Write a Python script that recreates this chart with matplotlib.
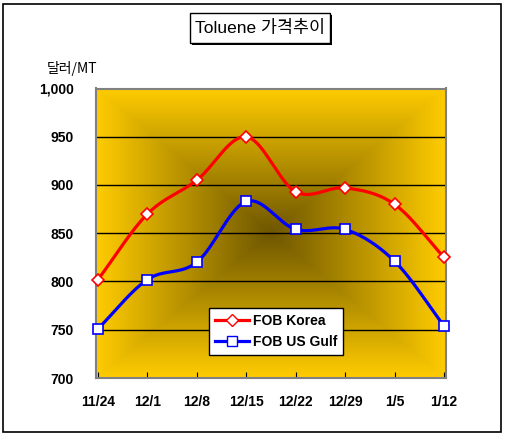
import numpy as np
import matplotlib
matplotlib.use("Agg")
import matplotlib.pyplot as plt
from matplotlib.patches import Rectangle
from matplotlib.lines import Line2D

categories = ["11/24", "12/1", "12/8", "12/15", "12/22", "12/29", "1/5", "1/12"]
fob_korea = [802, 870, 905, 950, 893, 897, 880, 825]
fob_usgulf = [751, 802, 820, 883, 854, 854, 821, 754]
yticks = [700, 750, 800, 850, 900, 950, 1000]
ytick_labels = ["700", "750", "800", "850", "900", "950", "1,000"]

W, H = 507, 441
fig = plt.figure(figsize=(W / 100, H / 100), dpi=100)
fig.patch.set_facecolor("white")

def fx(px):
    return px / W

def fy(py):
    return 1 - py / H

ax = fig.add_axes([fx(96), fy(378), fx(446) - fx(96), fy(88.5) - fy(378)])

# rectangular "from center" gradient background
n = 300
u = np.linspace(-1, 1, n)
U, V = np.meshgrid(u, u)
d = np.maximum(np.abs(U), np.abs(V))
edge = np.array([0xFF, 0xCC, 0x00]) / 255
center = np.array([0x6E, 0x56, 0x00]) / 255
t = d[..., None] ** 1.0
img = center + (edge - center) * t
ax.imshow(img, extent=[-0.04, 7.04, 700, 1000], aspect="auto", zorder=0)

ax.set_xlim(-0.04, 7.04)
ax.set_ylim(700, 1000)

for yv in yticks[1:-1]:
    ax.axhline(yv, color="black", lw=1.0, zorder=1)


def smooth(xs, ys, k=20):
    xs = np.asarray(xs, float)
    ys = np.asarray(ys, float)
    P = np.column_stack([xs, ys])
    P = np.vstack([2 * P[0] - P[1], P, 2 * P[-1] - P[-2]])
    out = []
    for i in range(1, len(P) - 2):
        p0, p1, p2, p3 = P[i - 1], P[i], P[i + 1], P[i + 2]
        tt = np.linspace(0, 1, k, endpoint=False)[:, None]
        c = 0.5 * ((2 * p1) + (-p0 + p2) * tt + (2 * p0 - 5 * p1 + 4 * p2 - p3) * tt ** 2
                   + (-p0 + 3 * p1 - 3 * p2 + p3) * tt ** 3)
        out.append(c)
    out.append(P[-2][None, :])
    c = np.vstack(out)
    return c[:, 0], c[:, 1]

x = np.arange(len(categories))
for vals, col, mk, ms in [(fob_korea, "#FF0000", "D", 6.5), (fob_usgulf, "#0000FF", "s", 7)]:
    sx, sy = smooth(x, vals)
    ax.plot(sx, sy, color=col, lw=2.3, zorder=3, solid_capstyle="round")
    ax.plot(x, vals, linestyle="none", marker=mk, ms=ms, mfc="white", mec=col, mew=1.2, zorder=4,
            clip_on=False)

for sp in ax.spines.values():
    sp.set_color("#808080")
    sp.set_linewidth(1.5)

ax.set_xticks(x)
ax.set_xticklabels(categories)
ax.set_yticks(yticks)
ax.set_yticklabels(ytick_labels)
ax.tick_params(axis="x", direction="in", length=4, color="black", pad=12)
ax.tick_params(axis="y", length=0, pad=16)
for lab in ax.get_xticklabels() + ax.get_yticklabels():
    lab.set_fontfamily("Liberation Sans")
    lab.set_fontweight("bold")
    lab.set_fontsize(10)

# y axis unit label
fig.text(fx(72), fy(68), "달러/MT", family=["Noto Sans CJK KR", "Liberation Sans"],
         fontsize=10, ha="center", va="center")

# legend
handles = [
    Line2D([], [], color="#FF0000", lw=2.3, marker="D", ms=6.5, mfc="white", mec="#FF0000"),
    Line2D([], [], color="#0000FF", lw=2.3, marker="s", ms=7, mfc="white", mec="#0000FF"),
]
leg = ax.legend(handles, ["FOB Korea", "FOB US Gulf"], loc="upper left",
                bbox_to_anchor=((209 - 96) / 350, 1 - (308 - 88.5) / 289.5),
                borderaxespad=0,
                frameon=True, fancybox=False, edgecolor="black", facecolor="white",
                framealpha=1, handlelength=2.4, handletextpad=0.3, borderpad=0.45,
                labelspacing=0.5, prop={"family": "Liberation Sans", "weight": "bold", "size": 10})
leg.get_frame().set_linewidth(1.0)
leg.set_zorder(5)

# title with shadow box
fig.patches.append(Rectangle((fx(192), fy(45)), fx(330) - fx(190), fy(13) - fy(43),
                             transform=fig.transFigure, facecolor="black", edgecolor="black",
                             lw=0, zorder=1))
fig.patches.append(Rectangle((fx(190), fy(43)), fx(330) - fx(190), fy(13) - fy(43),
                             transform=fig.transFigure, facecolor="white", edgecolor="black",
                             lw=1.0, zorder=2))
fig.text(fx(260), fy(28.5), "Toluene 가격추이", family=["Liberation Sans", "Noto Sans CJK KR"],
         fontsize=12.5, ha="center", va="center", zorder=3)

# outer border
fig.patches.append(Rectangle((fx(3), fy(432)), fx(501) - fx(3), fy(4) - fy(432),
                             transform=fig.transFigure, facecolor="none", edgecolor="black",
                             lw=1.2, zorder=0))

fig.savefig("out.png", dpi=100)
